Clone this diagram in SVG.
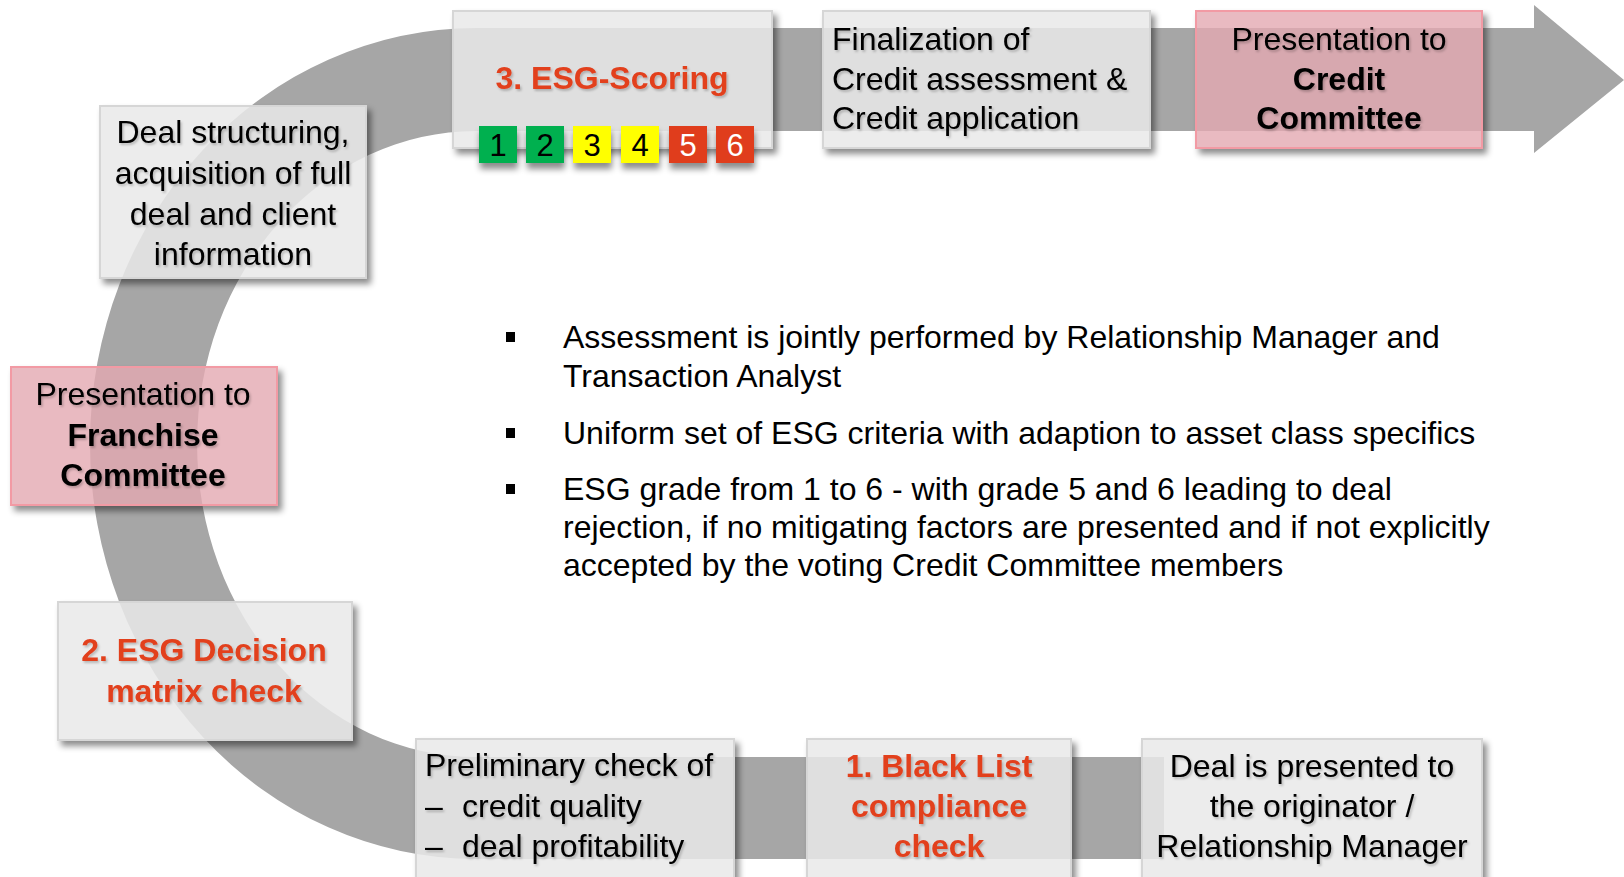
<svg xmlns="http://www.w3.org/2000/svg" width="1624" height="877" viewBox="0 0 1624 877">
<defs>
<filter id="boxsh" x="-10%" y="-10%" width="130%" height="140%">
<feComponentTransfer in="SourceAlpha" result="a"><feFuncA type="linear" slope="20"/></feComponentTransfer>
<feGaussianBlur in="a" stdDeviation="3" result="b"/>
<feOffset in="b" dx="4" dy="5" result="o"/>
<feComposite in="o" in2="a" operator="out" result="c"/>
<feColorMatrix in="c" type="matrix" values="0 0 0 0 0  0 0 0 0 0  0 0 0 0 0  0 0 0 0.45 0" result="d"/>
<feMerge><feMergeNode in="d"/><feMergeNode in="SourceGraphic"/></feMerge>
</filter>
<filter id="sqsh" x="-30%" y="-30%" width="160%" height="180%">
<feDropShadow dx="1" dy="6" stdDeviation="3" flood-color="#000" flood-opacity="0.45"/>
</filter>
<filter id="txsh" x="-5%" y="-20%" width="110%" height="150%">
<feDropShadow dx="1.5" dy="2" stdDeviation="1.2" flood-color="#000" flood-opacity="0.22"/>
</filter>
<style>
.band{fill:#a6a6a6}
.gbox{fill:#e9e9e9;fill-opacity:0.86;stroke:#d6d6d6;stroke-width:2}
.pbox{fill:#e3a9b2;fill-opacity:0.8;stroke:#f29aa4;stroke-width:2}
.t{font-family:"Liberation Sans",Arial,sans-serif;font-size:32px;fill:#000}
.c{text-anchor:middle}
.b{font-weight:bold}
.red{fill:#e2401f;font-weight:bold}
.bul{font-family:"Liberation Sans",Arial,sans-serif;font-size:32px;fill:#000}
.num{font-family:"Liberation Sans",Arial,sans-serif;font-size:31px;text-anchor:middle}
</style>
</defs>
<rect width="1624" height="877" fill="#fff"/>

<g id="connectors">
<path class="band" d="M476 28 H1534 V5 L1624 80 L1534 153 V131 H476 A279 313 0 0 0 476 757 H1164 V859 H476 A386 415.5 0 0 1 476 28 Z"/>
</g>

<g id="node-deal-structuring">
<rect class="gbox" x="100" y="106" width="266" height="172" filter="url(#boxsh)"/>
<g filter="url(#txsh)">
<text class="t c" x="233" y="143">Deal structuring,</text>
<text class="t c" x="233" y="184">acquisition of full</text>
<text class="t c" x="233" y="225">deal and client</text>
<text class="t c" x="233" y="265">information</text>
</g>
</g>

<g id="node-esg-scoring">
<rect class="gbox" x="453" y="11" width="319" height="137" filter="url(#boxsh)"/>
<text class="t c red" x="612" y="89" filter="url(#txsh)">3. ESG-Scoring</text>
<g id="grades">
<rect x="479" y="126" width="38" height="37" fill="#00b050" filter="url(#sqsh)"/>
<rect x="526" y="126" width="38" height="37" fill="#00b050" filter="url(#sqsh)"/>
<rect x="573" y="126" width="38" height="37" fill="#ffff00" filter="url(#sqsh)"/>
<rect x="621" y="126" width="38" height="37" fill="#ffff00" filter="url(#sqsh)"/>
<rect x="669" y="126" width="38" height="37" fill="#e03c1e" filter="url(#sqsh)"/>
<rect x="716" y="126" width="38" height="37" fill="#e03c1e" filter="url(#sqsh)"/>
<text class="num" x="498" y="156" fill="#000">1</text>
<text class="num" x="545" y="156" fill="#000">2</text>
<text class="num" x="592" y="156" fill="#000">3</text>
<text class="num" x="640" y="156" fill="#000">4</text>
<text class="num" x="688" y="156" fill="#fff">5</text>
<text class="num" x="735" y="156" fill="#fff">6</text>
</g>
</g>

<g id="node-finalization">
<rect class="gbox" x="823" y="11" width="327" height="137" filter="url(#boxsh)"/>
<g filter="url(#txsh)">
<text class="t" x="832" y="50">Finalization of</text>
<text class="t" x="832" y="90">Credit assessment &amp;</text>
<text class="t" x="832" y="129">Credit application</text>
</g>
</g>

<g id="node-credit-committee">
<rect class="pbox" x="1196" y="11" width="286" height="137" filter="url(#boxsh)"/>
<g filter="url(#txsh)">
<text class="t c" x="1339" y="50">Presentation to</text>
<text class="t c b" x="1339" y="90">Credit</text>
<text class="t c b" x="1339" y="129">Committee</text>
</g>
</g>

<g id="node-franchise-committee">
<rect class="pbox" x="11" y="367" width="266" height="138" filter="url(#boxsh)"/>
<g filter="url(#txsh)">
<text class="t c" x="143" y="405">Presentation to</text>
<text class="t c b" x="143" y="446">Franchise</text>
<text class="t c b" x="143" y="486">Committee</text>
</g>
</g>

<g id="node-decision-matrix">
<rect class="gbox" x="58" y="602" width="294" height="138" filter="url(#boxsh)"/>
<g filter="url(#txsh)">
<text class="t c red" x="204" y="661">2. ESG Decision</text>
<text class="t c red" x="204" y="702">matrix check</text>
</g>
</g>

<g id="node-preliminary">
<rect class="gbox" x="416" y="739" width="318" height="150" filter="url(#boxsh)"/>
<g filter="url(#txsh)">
<text class="t" x="425" y="776">Preliminary check of</text>
<text class="t" x="425" y="817">–</text>
<text class="t" x="462" y="817">credit quality</text>
<text class="t" x="425" y="857">–</text>
<text class="t" x="462" y="857">deal profitability</text>
</g>
</g>

<g id="node-black-list">
<rect class="gbox" x="807" y="739" width="264" height="150" filter="url(#boxsh)"/>
<g filter="url(#txsh)">
<text class="t c red" x="939" y="777">1. Black List</text>
<text class="t c red" x="939" y="817">compliance</text>
<text class="t c red" x="939" y="857">check</text>
</g>
</g>

<g id="node-deal-presented">
<rect class="gbox" x="1142" y="739" width="340" height="150" filter="url(#boxsh)"/>
<g filter="url(#txsh)">
<text class="t c" x="1312" y="777">Deal is presented to</text>
<text class="t c" x="1312" y="817">the originator /</text>
<text class="t c" x="1312" y="857">Relationship Manager</text>
</g>
</g>

<g id="bullets">
<rect x="506" y="332" width="9" height="10" fill="#000"/>
<rect x="506" y="428" width="9" height="10" fill="#000"/>
<rect x="506" y="484" width="9" height="10" fill="#000"/>
<text class="bul" x="563" y="348">Assessment is jointly performed by Relationship Manager and</text>
<text class="bul" x="563" y="387">Transaction Analyst</text>
<text class="bul" x="563" y="444">Uniform set of ESG criteria with adaption to asset class specifics</text>
<text class="bul" x="563" y="500">ESG grade from 1 to 6 - with grade 5 and 6 leading to deal</text>
<text class="bul" x="563" y="538">rejection, if no mitigating factors are presented and if not explicitly</text>
<text class="bul" x="563" y="576">accepted by the voting Credit Committee members</text>
</g>
</svg>
